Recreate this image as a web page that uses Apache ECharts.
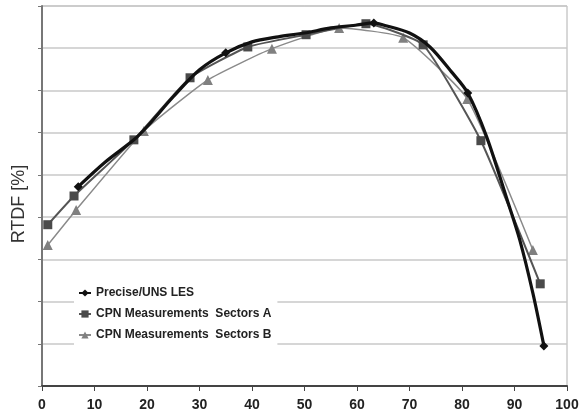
<!DOCTYPE html>
<html>
<head>
<meta charset="utf-8">
<script src="https://cdn.jsdelivr.net/npm/echarts@6/dist/echarts.min.js"></script>
<style>html,body{margin:0;padding:0;background:#fff}#c{width:587px;height:416px}</style>
</head>
<body>
<div id="c"></div>
<script>
// Data (x in %, y in gridline units, no y labels in original)
const precX = [6.9, 12, 17.5, 20, 25, 30, 35, 40, 45, 50, 55, 60, 63.2, 65, 70, 73.9, 78, 81.1, 84.7, 88.6, 91, 93.5, 95.6];
const precY = [4.72, 5.30, 5.83, 6.14, 6.85, 7.49, 7.89, 8.15, 8.27, 8.36, 8.48, 8.55, 8.60, 8.55, 8.36, 8.03, 7.44, 6.94, 5.90, 4.41, 3.46, 2.20, 0.95];
const precMarkX = [6.9, 35, 63.2, 81.1, 95.6];

const aX = [1.1, 6.1, 17.5, 28.2, 39.2, 50.3, 61.7, 72.6, 83.6, 94.9];
const aY = [3.82, 4.50, 5.83, 7.30, 8.03, 8.32, 8.58, 8.08, 5.81, 2.42];

const bX = [1.1, 6.5, 19.4, 31.6, 43.8, 56.6, 68.8, 81.0, 93.5];
const bY = [3.34, 4.17, 6.04, 7.25, 7.99, 8.48, 8.25, 6.80, 3.22];

const xTicks = [0, 10, 20, 30, 40, 50, 60, 70, 80, 90, 100];
const names = ['Precise/UNS LES', 'CPN Measurements  Sectors A', 'CPN Measurements  Sectors B'];

const chart = echarts.init(document.getElementById('c'), null, {renderer: 'canvas'});
const precData = precX.map((x, i) => ({
  value: [x, precY[i]],
  symbol: precMarkX.indexOf(x) >= 0 ? 'diamond' : 'none'
}));
chart.setOption({
  animation: false,
  backgroundColor: '#fff',
  grid: {left: 42, right: 20, top: 6, bottom: 30, show: true, borderColor: '#b0b0b0', borderWidth: 1},
  legend: {
    orient: 'vertical', left: 74, top: 283,
    backgroundColor: '#fff', padding: [4, 6, 4, 4],
    itemWidth: 12, itemHeight: 9, itemGap: 9,
    textStyle: {fontFamily: 'Liberation Sans, Arial', fontWeight: 'bold', fontSize: 12, color: '#222'},
    data: names
  },
  xAxis: {
    type: 'value', min: 0, max: 100, interval: 10,
    axisLine: {show: true, lineStyle: {color: '#444', width: 2}},
    axisTick: {show: true, length: 5, lineStyle: {color: '#444'}},
    axisLabel: {fontFamily: 'Liberation Sans, Arial', fontSize: 14, fontWeight: 'bold', color: '#222', margin: 12,
      formatter: v => xTicks.indexOf(v) >= 0 ? String(v) : ''},
    splitLine: {show: false}
  },
  yAxis: {
    type: 'value', min: 0, max: 9, interval: 1,
    name: 'RTDF [%]', nameLocation: 'middle', nameGap: 14, nameRotate: 90,
    nameTextStyle: {fontFamily: 'Liberation Sans, Arial', fontSize: 18, color: '#333', padding: [0, 16, 0, 0]},
    axisLine: {show: true, lineStyle: {color: '#777', width: 2}},
    axisTick: {show: true, length: 4, lineStyle: {color: '#777'}},
    axisLabel: {show: false},
    splitLine: {show: true, lineStyle: {color: '#c8c8c8', width: 1.5}}
  },
  series: [
    {
      name: names[2], type: 'line', smooth: 0.15,
      data: bX.map((x, i) => [x, bY[i]]),
      symbol: 'triangle', symbolSize: 10,
      lineStyle: {color: '#8a8a8a', width: 1.5},
      itemStyle: {color: '#808080'}, z: 2
    },
    {
      name: names[1], type: 'line', smooth: 0.15,
      data: aX.map((x, i) => [x, aY[i]]),
      symbol: 'rect', symbolSize: 9,
      lineStyle: {color: '#555', width: 2},
      itemStyle: {color: '#4a4a4a'}, z: 3
    },
    {
      name: names[0], type: 'line', smooth: 0.3,
      data: precData,
      symbol: 'diamond', symbolSize: 9,
      lineStyle: {color: '#111', width: 3.2},
      itemStyle: {color: '#111'}, z: 4
    }
  ]
});
</script>
</body>
</html>
